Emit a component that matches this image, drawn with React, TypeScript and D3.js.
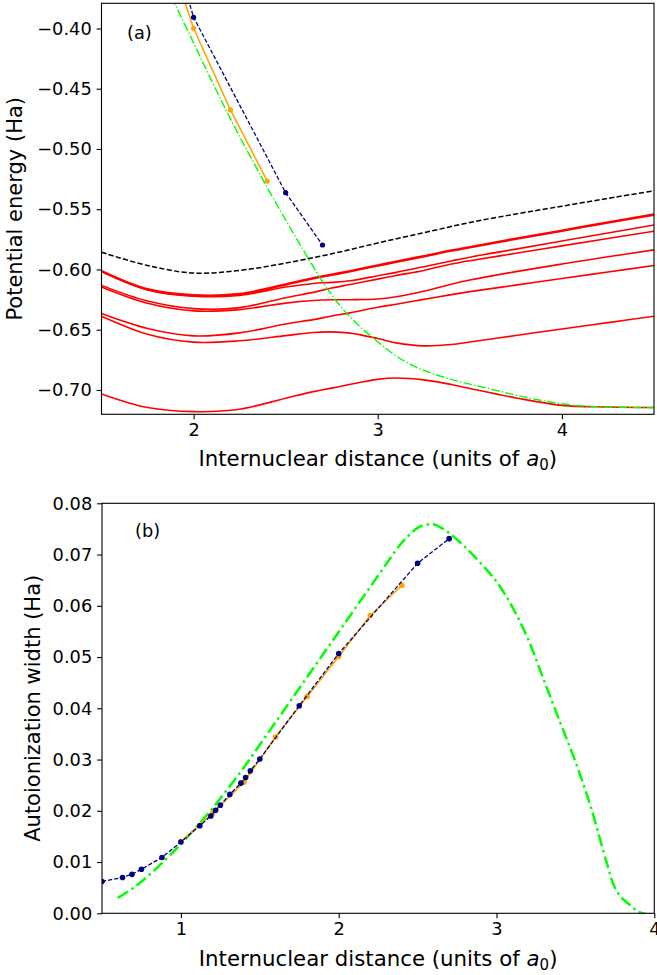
import React, { useEffect, useRef } from 'react';
import * as d3 from 'd3';

const W = 657;
const H = 975;
const FONT = "'DejaVu Sans', sans-serif";

// ---------- panel (a): potential energy curves ----------
const redX = [1.5, 1.75, 2.0, 2.25, 2.5, 2.65, 2.75, 2.85, 3.0, 3.1, 3.25, 3.4, 3.5, 3.75, 4.0, 4.25, 4.5];
const redT1 = [-0.6014, -0.6165, -0.6215, -0.6204, -0.6125, -0.6073, -0.6044, -0.6014, -0.5967, -0.5936, -0.589, -0.5843, -0.5815, -0.5745, -0.5678, -0.561, -0.5545];
const redT2 = [-0.6018, -0.617, -0.6222, -0.6215, -0.6146, -0.6116, -0.6107, -0.6094, -0.6052, -0.6024, -0.5977, -0.5929, -0.5898, -0.5831, -0.5764, -0.5697, -0.5631];
const redC = [-0.6132, -0.6262, -0.6325, -0.6317, -0.6234, -0.619, -0.6154, -0.6125, -0.608, -0.605, -0.6008, -0.5955, -0.5927, -0.5866, -0.5804, -0.5743, -0.5683];
const redD = [-0.6146, -0.6281, -0.6344, -0.6333, -0.6279, -0.6257, -0.6251, -0.6251, -0.6245, -0.6226, -0.618, -0.6122, -0.6088, -0.6018, -0.5955, -0.5895, -0.5837];
const redE = [-0.6366, -0.649, -0.6551, -0.6526, -0.6452, -0.6416, -0.6386, -0.636, -0.6314, -0.6288, -0.6248, -0.6209, -0.6184, -0.613, -0.6075, -0.6021, -0.5967];
const redF = [-0.6388, -0.6537, -0.6603, -0.6592, -0.6549, -0.6523, -0.6518, -0.6528, -0.6573, -0.6609, -0.6634, -0.6623, -0.6602, -0.6548, -0.6494, -0.6441, -0.6388];
const redG = [-0.7033, -0.7146, -0.718, -0.716, -0.7068, -0.7014, -0.6985, -0.6953, -0.6912, -0.6901, -0.6916, -0.6955, -0.6988, -0.7066, -0.7128, -0.7141, -0.7146];

const ionX = [1.5, 1.75, 2.0, 2.25, 2.5, 2.75, 3.0, 3.25, 3.5, 3.75, 4.0, 4.25, 4.5];
const ionE = [-0.5857, -0.5967, -0.603, -0.6008, -0.5947, -0.587, -0.578, -0.5695, -0.561, -0.554, -0.5475, -0.541, -0.5347];

const diabX = [1.85, 1.9, 2.0, 2.1, 2.2, 2.3, 2.4, 2.5, 2.6, 2.7, 2.8, 2.9, 3.0, 3.1, 3.2, 3.3, 3.4, 3.5, 3.6, 3.7, 3.8, 3.9, 4.0, 4.1, 4.2, 4.5];
const diabE = [-0.363, -0.38, -0.412, -0.444, -0.475, -0.504, -0.532, -0.559, -0.585, -0.61, -0.631, -0.647, -0.66, -0.6718, -0.6805, -0.6865, -0.6912, -0.6952, -0.6988, -0.7025, -0.706, -0.709, -0.7115, -0.7132, -0.714, -0.7146];

const orangeAX = [1.8, 2.0, 2.2, 2.4];
const orangeAE = [-0.309, -0.3998, -0.4676, -0.5266];
const navyAX = [1.75, 2.0, 2.5, 2.7];
const navyAE = [-0.262, -0.3907, -0.5363, -0.5797];

const yTicksA = [-0.4, -0.45, -0.5, -0.55, -0.6, -0.65, -0.7];
const xTicksA = [2, 3, 4];

// ---------- panel (b): autoionization widths ----------
const diabWX = [0.6, 0.7, 0.8, 0.9, 1.0, 1.1, 1.2, 1.3, 1.4, 1.5, 1.6, 1.7, 1.8, 1.9, 2.0, 2.1, 2.2, 2.3, 2.4, 2.5, 2.55, 2.6, 2.65, 2.7, 2.8, 2.9, 3.0, 3.1, 3.2, 3.3, 3.4, 3.5, 3.6, 3.7, 3.75, 3.8, 3.85, 3.9, 4.0];
const diabW = [0.003, 0.005, 0.0075, 0.0104, 0.0135, 0.0169, 0.0205, 0.0244, 0.0285, 0.0329, 0.0373, 0.0417, 0.0461, 0.0505, 0.0549, 0.0593, 0.0637, 0.0681, 0.0723, 0.0752, 0.0758, 0.0759, 0.0752, 0.0742, 0.0715, 0.0683, 0.0647, 0.0598, 0.0535, 0.0455, 0.0375, 0.0296, 0.0205, 0.0097, 0.005, 0.0028, 0.0015, 0.0003, -0.0005];

const orangeBX = [1.0, 1.2, 1.4, 1.6, 1.8, 2.0, 2.2, 2.4];
const orangeBW = [0.014, 0.0195, 0.0256, 0.0344, 0.0423, 0.0501, 0.0581, 0.064];
const navyBX = [0.5, 0.63, 0.69, 0.75, 0.88, 1.0, 1.12, 1.19, 1.22, 1.25, 1.31, 1.38, 1.41, 1.44, 1.5, 1.75, 2.0, 2.5, 2.7];
const navyBW = [0.0062, 0.007, 0.0076, 0.0086, 0.0109, 0.0139, 0.0171, 0.019, 0.0201, 0.0211, 0.0232, 0.0254, 0.0265, 0.0278, 0.0301, 0.0405, 0.0507, 0.0683, 0.0731];

const yTicksB = [0, 0.01, 0.02, 0.03, 0.04, 0.05, 0.06, 0.07, 0.08];
const xTicksB = [1, 2, 3, 4];

type Scale = d3.ScaleLinear<number, number>;

export default function App() {
  const svgRef = useRef<SVGSVGElement>(null);

  useEffect(() => {
    if (!svgRef.current) return;
    const svg = d3.select(svgRef.current);
    svg.selectAll('*').remove();
    const defs = svg.append('defs');

    const frame = (id: string, x: Scale, y: Scale) => {
      const [x0, x1] = x.range();
      const [y1, y0] = y.range();
      defs.append('clipPath').attr('id', id)
        .append('rect').attr('x', x0).attr('y', y0).attr('width', x1 - x0).attr('height', y1 - y0);
      return svg.append('g').attr('clip-path', `url(#${id})`);
    };

    const curve = (g: any, xs: number[], ys: number[], x: Scale, y: Scale, color: string, width: number, dash: string | null, smooth: boolean) => {
      const line = d3.line<number>()
        .x((d, i) => x(xs[i]))
        .y(d => y(d));
      if (smooth) line.curve(d3.curveCatmullRom.alpha(0.5));
      const p = g.append('path')
        .datum(ys)
        .attr('fill', 'none')
        .attr('stroke', color)
        .attr('stroke-width', width)
        .attr('stroke-linejoin', 'round')
        .attr('d', line);
      if (dash) p.attr('stroke-dasharray', dash);
    };

    const dots = (g: any, xs: number[], ys: number[], x: Scale, y: Scale, color: string, r: number) => {
      g.selectAll(null).data(ys).enter().append('circle')
        .attr('cx', (d: number, i: number) => x(xs[i]))
        .attr('cy', (d: number) => y(d))
        .attr('r', r)
        .attr('fill', color);
    };

    const axes = (x: Scale, y: Scale, xt: number[], yt: number[], yfmt: (v: number) => string, xlabelY: number, ylabel: string, ylabelX: number) => {
      const [x0, x1] = x.range();
      const [yb, yt0] = y.range();
      const ax = svg.append('g').attr('transform', `translate(0,${yb})`)
        .call(d3.axisBottom(x).tickValues(xt).tickFormat(d3.format('d')).tickSize(4.9).tickPadding(4.6));
      const ay = svg.append('g').attr('transform', `translate(${x0},0)`)
        .call(d3.axisLeft(y).tickValues(yt).tickFormat(yfmt as any).tickSize(4.9).tickPadding(4.9));
      [ax, ay].forEach(a => {
        a.select('.domain').remove();
        a.selectAll('line').attr('stroke', '#000').attr('stroke-width', 1.1);
        a.selectAll('text').attr('font-size', 17.8).attr('font-family', FONT).attr('fill', '#000');
      });
      svg.append('rect')
        .attr('x', x0).attr('y', yt0).attr('width', x1 - x0).attr('height', yb - yt0)
        .attr('fill', 'none').attr('stroke', '#000').attr('stroke-width', 1.1);

      const xl = svg.append('text')
        .attr('x', (x0 + x1) / 2).attr('y', xlabelY)
        .attr('text-anchor', 'middle')
        .attr('font-family', FONT).attr('font-size', 21.3);
      xl.append('tspan').text('Internuclear distance (units of ');
      xl.append('tspan').attr('font-style', 'italic').text('a');
      xl.append('tspan').attr('font-size', 15).attr('dy', 4).text('0');
      xl.append('tspan').attr('dy', -4).text(')');

      svg.append('text')
        .attr('transform', `translate(${ylabelX},${(yb + yt0) / 2}) rotate(-90)`)
        .attr('text-anchor', 'middle')
        .attr('font-family', FONT).attr('font-size', 21)
        .text(ylabel);
    };

    // ----- panel (a)
    const xA = d3.scaleLinear().domain([1.5, 4.5]).range([101.5, 654]);
    const yA = d3.scaleLinear().domain([-0.7202, -0.3791]).range([414.3, 3.3]);
    const gA = frame('clipA', xA, yA);

    const reds = [redT1, redT2, redC, redD, redE, redF, redG];
    reds.forEach((r, i) => curve(gA, redX, r, xA, yA, '#ff0000', i === 0 ? 2.6 : 1.6, null, true));
    curve(gA, ionX, ionE, xA, yA, '#000000', 1.5, '5.2,2.3', true);
    curve(gA, diabX, diabE, xA, yA, '#00ff00', 1.4, '8.5,2.2,1.4,2.2', true);
    curve(gA, orangeAX, orangeAE, xA, yA, '#ffa500', 1.6, null, false);
    dots(gA, orangeAX, orangeAE, xA, yA, '#ffa500', 2.6);
    curve(gA, navyAX, navyAE, xA, yA, '#000080', 1.3, '4.2,2', false);
    dots(gA, navyAX, navyAE, xA, yA, '#000080', 2.6);

    axes(xA, yA, xTicksA, yTicksA, d3.format('.2f'), 466, 'Potential energy (Ha)', 22);
    svg.append('text').attr('x', 127).attr('y', 39)
      .attr('font-family', FONT).attr('font-size', 17.8).text('(a)');

    // ----- panel (b)
    const xB = d3.scaleLinear().domain([0.5, 4.0]).range([102, 654.3]);
    const yB = d3.scaleLinear().domain([0, 0.08]).range([913.3, 503.3]);
    const gB = frame('clipB', xB, yB);

    curve(gB, diabWX, diabW, xB, yB, '#00ff00', 2.5, '12,4,2.5,4', true);
    curve(gB, orangeBX, orangeBW, xB, yB, '#ffa500', 1.6, null, false);
    dots(gB, orangeBX, orangeBW, xB, yB, '#ffa500', 2.8);
    curve(gB, navyBX, navyBW, xB, yB, '#000080', 1.3, '4.2,2', false);
    dots(gB, navyBX, navyBW, xB, yB, '#000080', 2.8);

    axes(xB, yB, xTicksB, yTicksB, d3.format('.2f'), 966, 'Autoionization width (Ha)', 40);
    svg.append('text').attr('x', 135).attr('y', 537)
      .attr('font-family', FONT).attr('font-size', 17.8).text('(b)');
  }, []);

  return (
    <svg
      ref={svgRef}
      width={W}
      height={H}
      style={{ position: 'absolute', left: 0, top: 0, background: '#ffffff' }}
    />
  );
}
